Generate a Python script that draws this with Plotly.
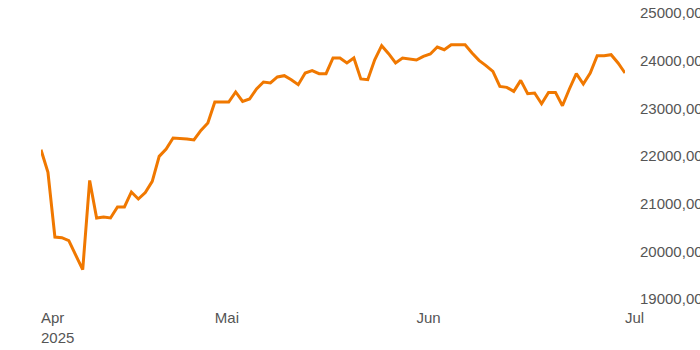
import plotly.graph_objects as go

values = [
    22130, 21656, 20300, 20286, 20223, 19929, 19615, 21488, 20700, 20720,
    20700, 20930, 20930, 21245, 21098, 21235, 21467, 21992, 22147, 22378,
    22370, 22357, 22336, 22537, 22692, 23133, 23133, 23133, 23343, 23146,
    23196, 23406, 23553, 23532, 23658, 23685, 23601, 23496, 23741, 23790,
    23727, 23727, 24056, 24056, 23951, 24056, 23616, 23601, 24020, 24314,
    24146, 23951, 24056, 24035, 24014, 24090, 24140, 24287, 24230, 24335,
    24335, 24335, 24161, 24006, 23895, 23775, 23460, 23440, 23355, 23586,
    23307, 23321, 23097, 23334, 23334, 23055, 23406, 23727, 23511, 23741,
    24104, 24104, 24125, 23951, 23741,
]
x_index = list(range(len(values)))

tick_index = [0, 25, 54, 84]
tick_labels = ["Apr<br>2025", "Mai", "Jun", "Jul"]
y_ticks = [19000, 20000, 21000, 22000, 23000, 24000, 25000]

fig = go.Figure()
fig.add_trace(go.Scatter(
    x=x_index, y=values, mode="lines",
    line=dict(color="#F07800", width=3),
    hoverinfo="skip", showlegend=False,
))

font = dict(family="Liberation Sans, Arial, sans-serif", size=15, color="#555555")

fig.update_layout(
    width=700, height=350,
    margin=dict(l=41, r=75, t=13, b=51, autoexpand=False),
    paper_bgcolor="white", plot_bgcolor="white",
    separators=",.",
    font=font,
    xaxis=dict(
        range=[0, 84], tickmode="array", tickvals=tick_index, ticktext=tick_labels,
        showgrid=False, zeroline=False, showline=False, ticks="",
        ticklabelposition="outside right", tickfont=font, automargin=False,
        ticklabelstandoff=8,
    ),
    yaxis=dict(
        range=[19000, 25000], side="right", tickmode="array", tickvals=y_ticks,
        tickformat=".2f", showgrid=False, zeroline=False, showline=False, ticks="",
        tickfont=font, automargin=False, ticklabelstandoff=14,
    ),
)

fig.write_html("out.html")
